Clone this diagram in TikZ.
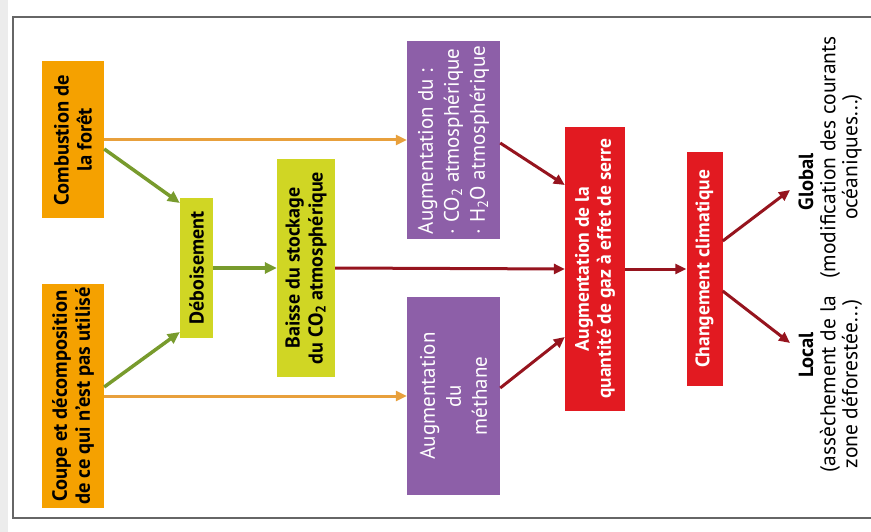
\documentclass[tikz,border=0pt]{standalone}
\usepackage{fontspec}
\setmainfont{PT Sans}
\usetikzlibrary{arrows.meta}
\usepackage{xcolor}
\definecolor{boxorange}{RGB}{245,161,0}
\definecolor{boxyellow}{RGB}{208,214,36}
\definecolor{boxpurple}{RGB}{141,95,168}
\definecolor{boxred}{RGB}{226,26,33}
\definecolor{arrorange}{RGB}{232,160,60}
\definecolor{arrgreen}{RGB}{120,155,45}
\definecolor{arrred}{RGB}{150,20,30}

\begin{document}
\begin{tikzpicture}
[x=1pt, y=-1pt,
OrangeNode/.style={rectangle,fill=boxorange,rotate=90,align=center,inner sep=1pt,font=\fontsize{20.5}{23}\selectfont\bfseries, minimum height=62pt},
YellowNode/.style={rectangle,fill=boxyellow,rotate=90,align=center,inner sep=1pt,font=\fontsize{20}{23}\selectfont\bfseries},
PurpleNode/.style={rectangle,fill=boxpurple,text=white,rotate=90,inner sep=1pt,font=\fontsize{21}{26}\selectfont, minimum width=198pt, minimum height=93pt},
RedNode/.style={rectangle,fill=boxred,text=white,rotate=90,align=center,inner sep=1pt,font=\fontsize{19.5}{22}\selectfont\bfseries},
Tag/.style={rectangle,rotate=90,align=center,inner sep=0pt,font=\fontsize{21.5}{22}\selectfont},
OrangeArrow/.style={draw=arrorange,line width=3pt,-{Triangle[length=11pt,width=10pt]}},
GreenArrow/.style={draw=arrgreen,line width=3.5pt,-{Triangle[length=12pt,width=11pt]}},
RedArrow/.style={draw=arrred,line width=3pt,-{Triangle[length=11pt,width=10pt]}}]

\useasboundingbox (0,0) rectangle (871,532);

% cadre
\fill[gray!15] (0,0) rectangle (8,532);
\draw[black!60, line width=1.5pt] (871,17) -- (13,17) -- (13,518) -- (871,518);

% causes
\node[OrangeNode, minimum width=157pt] (n1) at (73,140) {Combustion de\\la forêt};
\node[OrangeNode, minimum width=224pt] (n2) at (73,396) {Coupe et décomposition\\de ce qui n'est pas utilisé};

% stockage
\node[YellowNode, minimum width=139pt, minimum height=33pt] (n3) at (196.5,268) {Déboisement};
\node[YellowNode, minimum width=218pt, minimum height=58pt] (n4) at (306,268) {Baisse du stockage\\du CO\textsubscript{2} atmosphérique};

% gaz
\node[PurpleNode, align=left] (n5) at (453.5,140) {Augmentation du :\\· CO\textsubscript{2} atmosphérique\\· H\textsubscript{2}O atmosphérique};
\node[PurpleNode, align=center] (n6) at (453.5,396) {Augmentation\\du\\méthane};

% effet de serre
\node[RedNode, minimum width=284pt, minimum height=60pt] (n7) at (595,269) {Augmentation de la\\quantité de gaz à effet de serre};
\node[RedNode, minimum width=234pt, minimum height=36pt] (n8) at (704.5,269) {Changement climatique};

% consequences
\coordinate (g) at (790,190);
\coordinate (l) at (790,343);
\node[Tag, font=\fontsize{20.5}{22}\selectfont\bfseries] (t1) at (806,182) {Global};
\node[Tag] (t2) at (841,157) {(modification des courants\\océaniques...)};
\node[Tag, font=\fontsize{20.5}{22}\selectfont\bfseries] (t3) at (806,355) {Local};
\node[Tag] (t4) at (841,384) {(assèchement de la\\zone déforestée...)};

% fleches
\draw[OrangeArrow] (n1.south) -- (n5.north);
\draw[OrangeArrow] (n2.south) -- (n6.north);
\draw[GreenArrow] ([yshift=-9pt]n1.south) -- ([yshift=65pt]n3.north);
\draw[GreenArrow] ([yshift=9pt]n2.south) -- ([yshift=-64pt]n3.north);
\draw[GreenArrow] (n3.south) -- (n4.north);
\draw[RedArrow] (n4.south) -- (n7.north);
\draw[RedArrow] ([yshift=-3pt]n5.south) -- ([yshift=84pt]n7.north);
\draw[RedArrow] ([yshift=8pt]n6.south) -- ([yshift=-68pt]n7.north);
\draw[RedArrow] (n7.south) -- (n8.north);
\draw[RedArrow] ([yshift=28pt]n8.south) -- (g);
\draw[RedArrow] ([yshift=-22pt]n8.south) -- (l);

\end{tikzpicture}
\end{document}
